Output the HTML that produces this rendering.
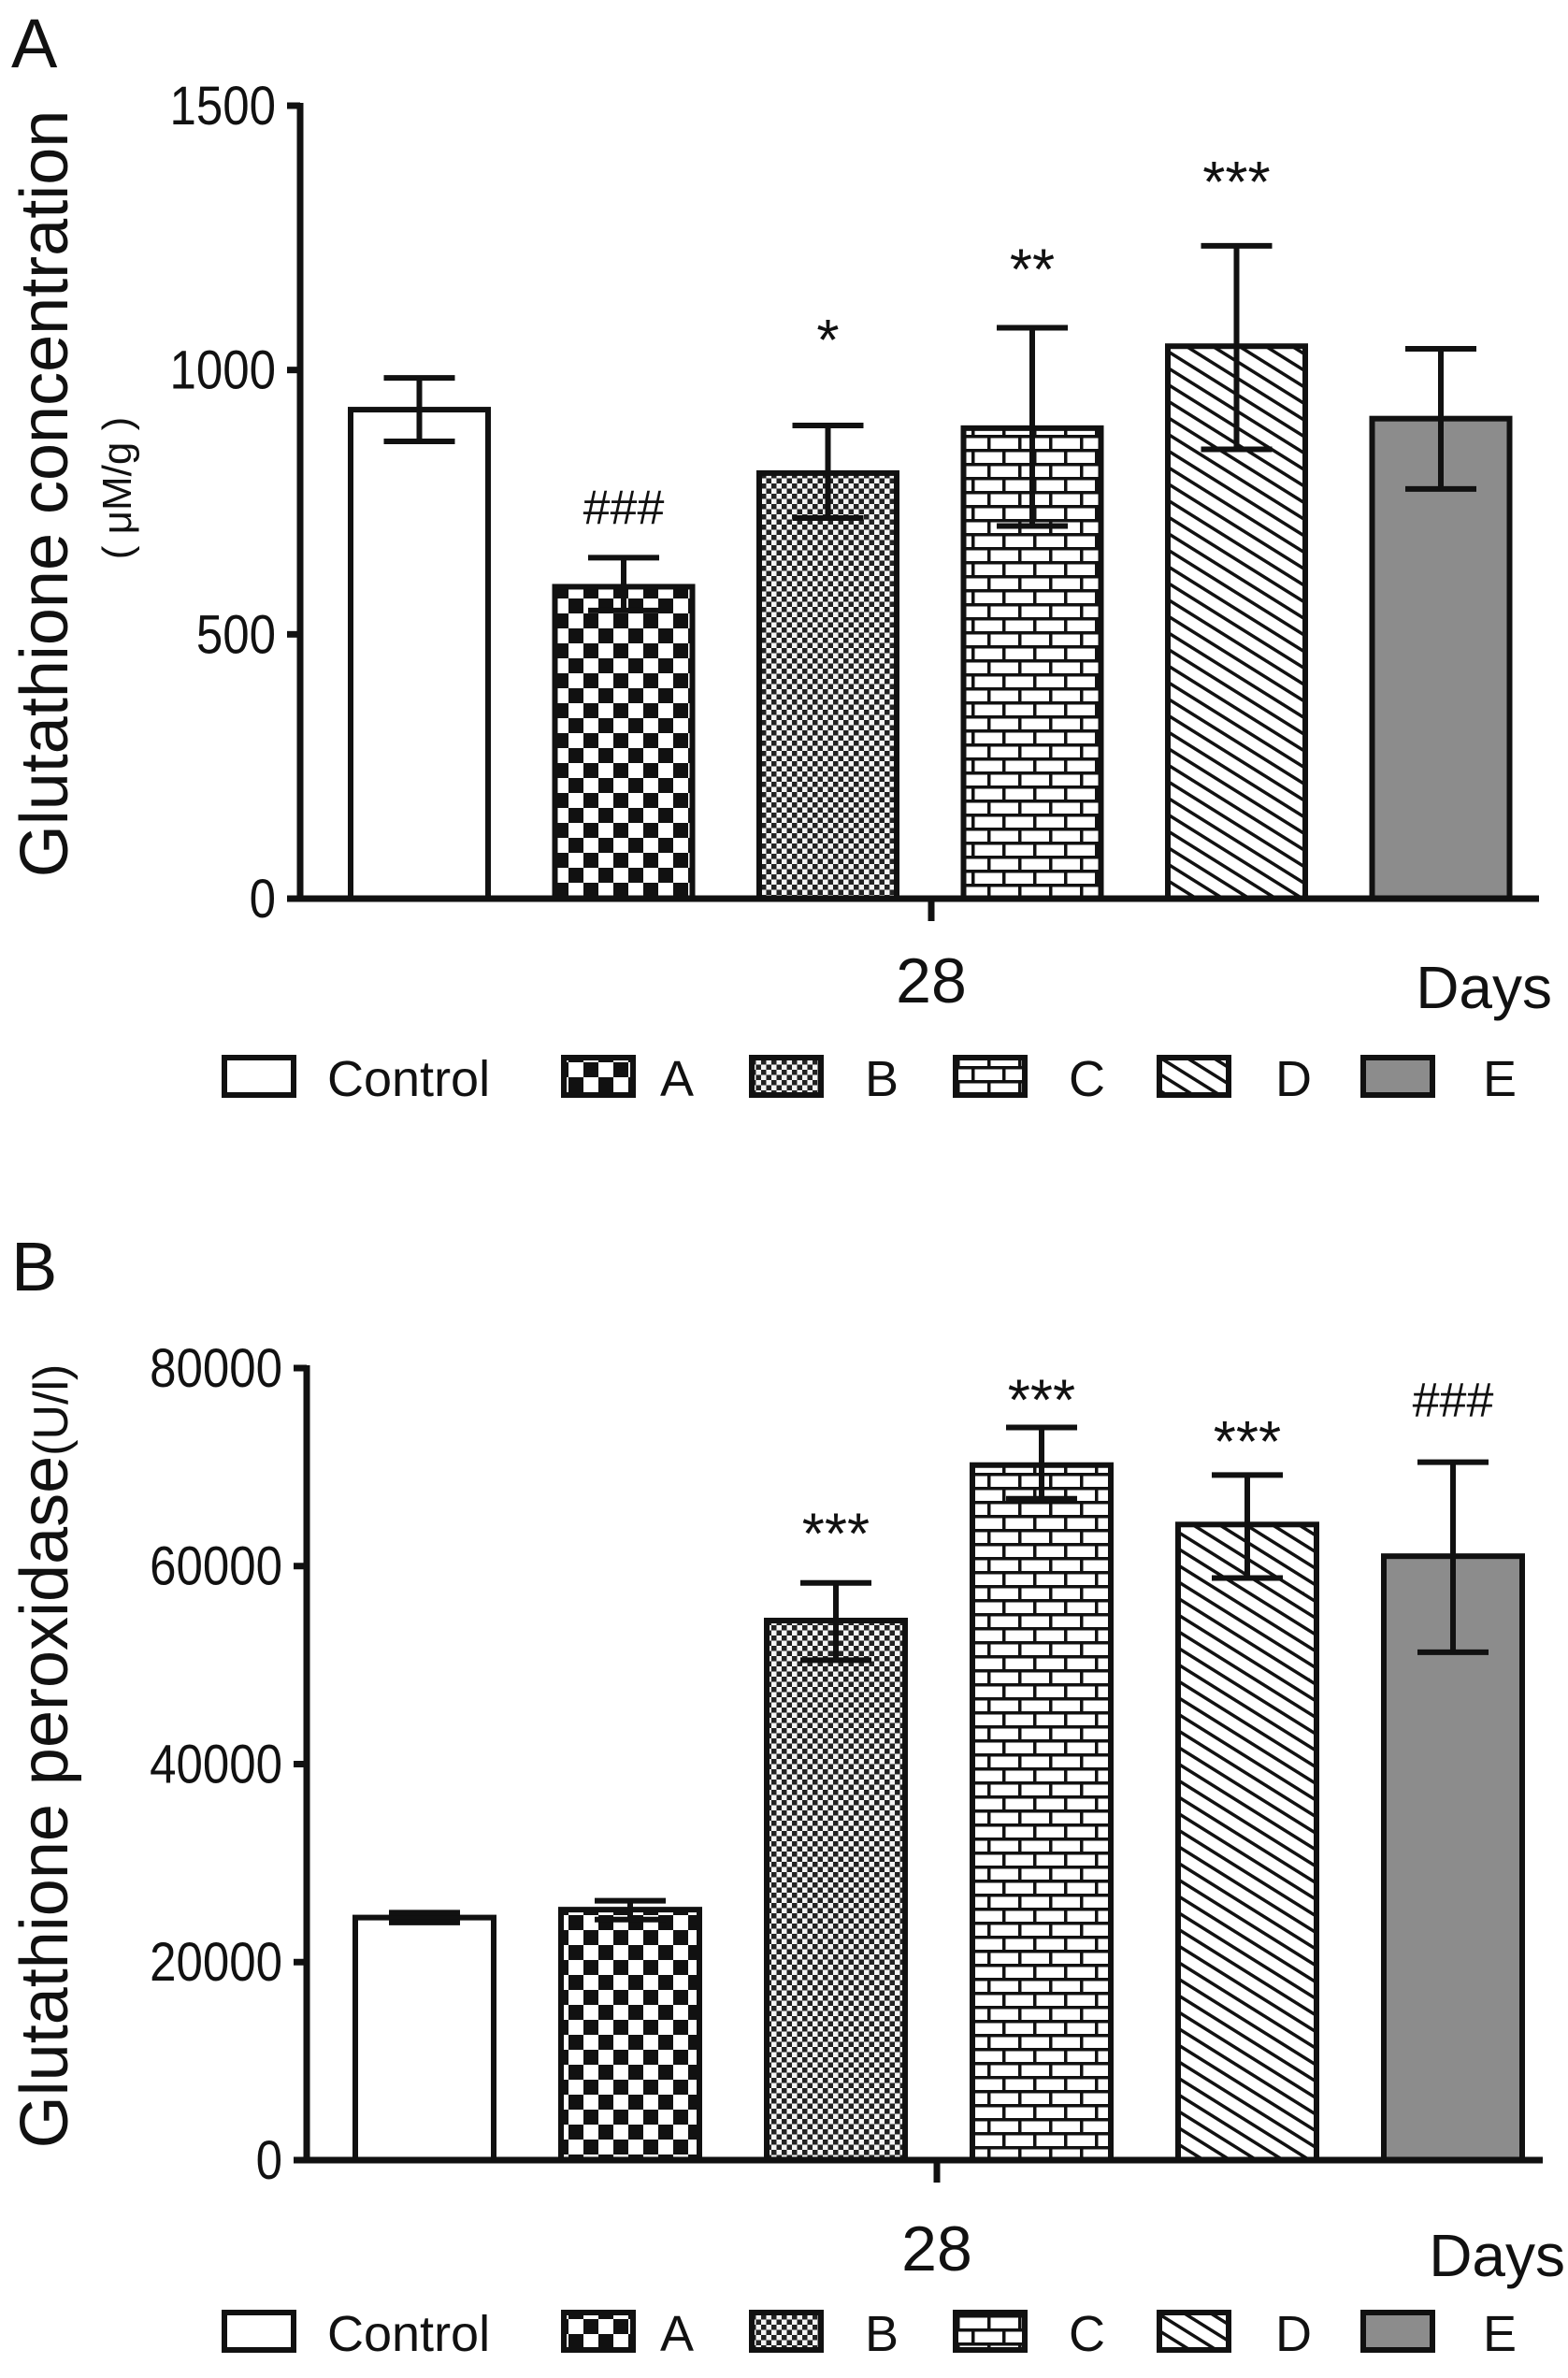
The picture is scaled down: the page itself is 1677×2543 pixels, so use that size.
<!DOCTYPE html>
<html><head><meta charset="utf-8"><style>
html,body{margin:0;padding:0;background:#fff}
svg{display:block}
text{font-family:"Liberation Sans",sans-serif;fill:#111}
</style></head><body>
<svg id="fig" width="1677" height="2543" viewBox="0 0 1677 2543" xmlns="http://www.w3.org/2000/svg">
<defs>
<pattern id="pA" width="32" height="32" patternUnits="userSpaceOnUse"><rect width="32" height="32" fill="#fff"/><rect width="16" height="16" fill="#111"/><rect x="16" y="16" width="16" height="16" fill="#111"/></pattern>
<pattern id="pB" width="11" height="11" patternUnits="userSpaceOnUse"><rect width="11" height="11" fill="#f4f4f4"/><rect width="5.5" height="5.5" fill="#222"/><rect x="5.5" y="5.5" width="5.5" height="5.5" fill="#222"/></pattern>
<pattern id="pC" width="66" height="30" patternUnits="userSpaceOnUse"><rect width="66" height="30" fill="#fff"/><rect y="0" width="66" height="3.5" fill="#111"/><rect y="15" width="66" height="3.5" fill="#111"/><rect x="16" y="0" width="3.5" height="15" fill="#111"/><rect x="49" y="0" width="3.5" height="15" fill="#111"/><rect x="0" y="15" width="3.5" height="15" fill="#111"/><rect x="33" y="15" width="3.5" height="15" fill="#111"/></pattern>
<pattern id="pD" width="30" height="15" patternUnits="userSpaceOnUse" patternTransform="rotate(32)"><rect width="30" height="15" fill="#fff"/><rect y="0" width="30" height="3.5" fill="#111"/></pattern>
</defs>
<g id="panelA"></g>
<g id="panelB"></g>
</svg>
<script>
const groups = ["Control","A","B","C","D","E"];
const fills = ["#fff","url(#pA)","url(#pB)","url(#pC)","url(#pD)","#8c8c8c"];
// Panel A data
const aValues = [925, 590, 805, 890, 1045, 908];
const aErrLow = [865, 545, 720, 705, 850, 775];
const aErrHigh = [985, 645, 895, 1080, 1235, 1040];
const aSig = ["", "###", "*", "**", "***", ""];
const aSigPos = [0, 744, 1068, 1202, 1367, 0];
const aTicks = [0, 500, 1000, 1500];
// Panel B data
const bValues = [24500, 25300, 54500, 70200, 64200, 61000];
const bErrLow = [24000, 24300, 50500, 66800, 58800, 51300];
const bErrHigh = [25000, 26200, 58300, 74000, 69200, 70500];
const bSig = ["", "", "***", "***", "***", "###"];
const bSigPos = [0, 0, 63900, 77400, 73200, 77000];
const bTicks = [0, 20000, 40000, 60000, 80000];

const NS = "http://www.w3.org/2000/svg";
function mk(parent, tag, attrs, txt){
  const e = document.createElementNS(NS, tag);
  for (const k in attrs) e.setAttribute(k, attrs[k]);
  if (txt !== undefined) e.textContent = txt;
  parent.appendChild(e);
  return e;
}

function drawPanel(g, cfg){
  const yScale = v => cfg.y0 - (v - 0) / cfg.max * (cfg.y0 - cfg.yTop);
  const xLeft = i => cfg.bx0 + i * cfg.step;
  let t = mk(g, "text", {x: 12, y: cfg.letterY, "font-size": 74}, cfg.letter);
  
  
  t = mk(g, "text", {transform: `translate(${cfg.titleX},${cfg.titleCY}) rotate(-90)`, "text-anchor": "middle", "font-size": 72}, cfg.title);
  
  
  if (cfg.titleSuffix) {
    mk(t, "tspan", {"font-size": 52}, cfg.titleSuffix);
  }
  if (cfg.subtitle) {
    t = mk(g, "text", {transform: `translate(${cfg.subX},${cfg.subCY}) rotate(-90)`, "text-anchor": "middle", "font-size": 44}, cfg.subtitle);
    
    
  }
  cfg.values.forEach((v, i) => {
    const x = xLeft(i), y = yScale(v);
    const r = mk(g, "rect", {x: x, y: y, width: cfg.bw, height: cfg.y0 - y, fill: fills[i], stroke: "#111", "stroke-width": 6});
    
    
    const cx = x + cfg.bw / 2;
    const eg = mk(g, "g", {stroke: "#111", "stroke-width": 6});
    
    
    mk(eg, "line", {x1: cx, x2: cx, y1: yScale(cfg.hi[i]), y2: yScale(cfg.lo[i])});
    mk(eg, "line", {x1: cx - 38, x2: cx + 38, y1: yScale(cfg.hi[i]), y2: yScale(cfg.hi[i])});
    mk(eg, "line", {x1: cx - 38, x2: cx + 38, y1: yScale(cfg.lo[i]), y2: yScale(cfg.lo[i])});
    if (cfg.sig[i]) {
      const isHash = cfg.sig[i][0] === "#";
      const s = mk(g, "text", {x: cx, y: yScale(cfg.sigPos[i]) + (isHash ? 20 : 28), "text-anchor": "middle", "font-size": isHash ? 52 : 62, "font-family": isHash ? "Liberation Serif, serif" : "Liberation Sans, sans-serif"}, cfg.sig[i]);
      
      
    }
  });
  const ax = mk(g, "g", {stroke: "#111", "stroke-width": 7});
  
  
  mk(ax, "line", {x1: cfg.axX, x2: cfg.axX, y1: cfg.yTop - 3, y2: cfg.y0 + 3});
  mk(ax, "line", {x1: cfg.axX, x2: cfg.axEnd, y1: cfg.y0, y2: cfg.y0});
  mk(ax, "line", {x1: cfg.tickX, x2: cfg.tickX, y1: cfg.y0, y2: cfg.y0 + 24});
  cfg.ticks.forEach(tv => {
    mk(ax, "line", {x1: cfg.axX - 14, x2: cfg.axX, y1: yScale(tv), y2: yScale(tv)});
    const tl = mk(g, "text", {x: cfg.axX - 26, y: yScale(tv) + 20, "text-anchor": "end", "font-size": 58, transform: `translate(${(cfg.axX-26)*0.12},0) scale(0.88,1)`}, String(tv));
    
    
  });
  t = mk(g, "text", {x: cfg.tickX, y: cfg.catY, "text-anchor": "middle", "font-size": 68}, "28");
  
  
  t = mk(g, "text", {x: cfg.daysRight, y: cfg.catY + 6, "text-anchor": "end", "font-size": 64}, "Days");
  
  
  const boxX = [240, 603, 804, 1022, 1240, 1458];
  const txtX = [350, 706, 925, 1143, 1364, 1586];
  groups.forEach((gname, i) => {
    const lg = mk(g, "g", {});
    
    
    mk(lg, "rect", {x: boxX[i], y: cfg.legY - 21, width: 74, height: 40, fill: fills[i], stroke: "#111", "stroke-width": 6});
    mk(lg, "text", {x: txtX[i], y: cfg.legY + 20, "font-size": 54}, gname);
  });
}

drawPanel(document.getElementById("panelA"), {
  letter: "A", letterY: 72, title: "Glutathione concentration", titleX: 72, titleCY: 528,
  subtitle: "( μM/g )", subX: 140, subCY: 522,
  values: aValues, lo: aErrLow, hi: aErrHigh, sig: aSig, sigPos: aSigPos, ticks: aTicks,
  max: 1500, y0: 961, yTop: 113, bx0: 375, step: 218.5, bw: 147,
  axX: 321, axEnd: 1646, tickX: 996, catY: 1072, daysRight: 1660, legY: 1152
});
drawPanel(document.getElementById("panelB"), {
  letter: "B", letterY: 1380, title: "Glutathione peroxidase", titleSuffix: "(U/l)", titleX: 72, titleCY: 1878,
  values: bValues, lo: bErrLow, hi: bErrHigh, sig: bSig, sigPos: bSigPos, ticks: bTicks,
  max: 80000, y0: 2310, yTop: 1463, bx0: 380, step: 220, bw: 148,
  axX: 328, axEnd: 1650, tickX: 1002, catY: 2428, daysRight: 1674, legY: 2494
});
</script>
</body></html>
